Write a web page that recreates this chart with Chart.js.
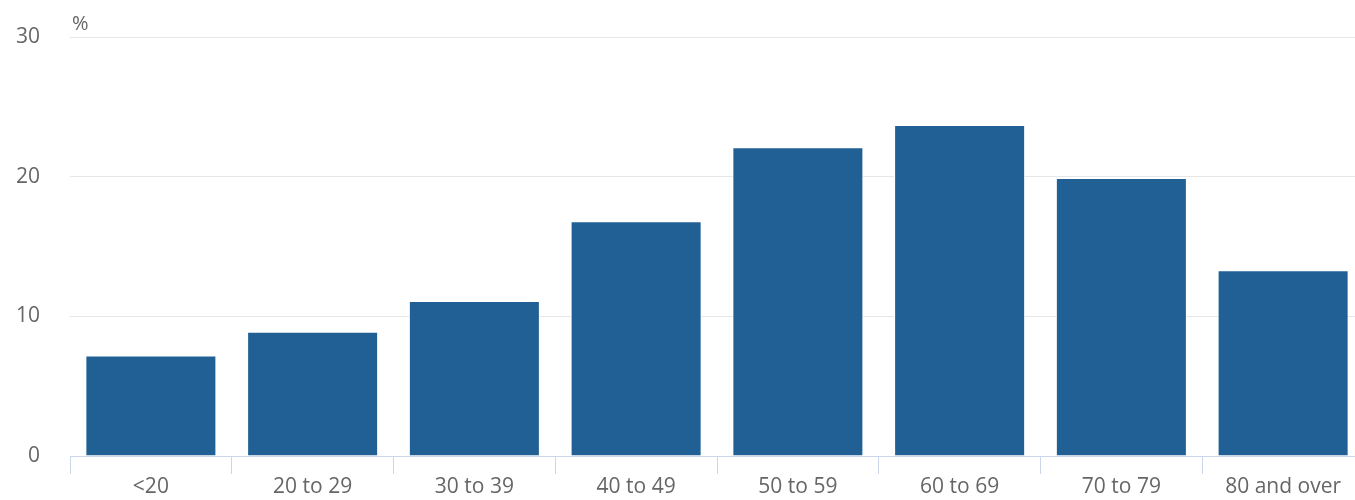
<!DOCTYPE html>
<html>
<head>
<meta charset="utf-8">
<script src="https://cdn.jsdelivr.net/npm/chart.js@4"></script>
<style>
    html, body { margin: 0; padding: 0; overflow: hidden; background: #ffffff; }
    #wrap { width: 1364px; height: 500px; position: relative; }
</style>
</head>
<body>
<div id="wrap"><canvas id="ageChart"></canvas></div>
<script>
// Age groups and their share (%)
const ageGroups = ["<20", "20 to 29", "30 to 39", "40 to 49", "50 to 59", "60 to 69", "70 to 79", "80 and over"];
const shareValues = [7.2, 8.9, 11.1, 16.8, 22.1, 23.7, 19.9, 13.3];
const yTicks = [0, 10, 20, 30];
const unitLabel = "%";

const labelFont = { family: "'Open Sans', sans-serif", size: 21 };
const labelColor = "#666666";

/**
 * Draw the unit label above the value axis
 */
const unitPlugin = {
    id: "unitLabel",
    afterDraw(chart) {
        let ctx = chart.ctx;
        ctx.save();
        ctx.font = "20px 'Open Sans', sans-serif";
        ctx.fillStyle = labelColor;
        ctx.textAlign = "left";
        ctx.textBaseline = "alphabetic";
        ctx.fillText(unitLabel, chart.chartArea.left + 2, chart.chartArea.top - 7);
        ctx.restore();
    }
};

function renderChart() {
    let ctx = document.getElementById("ageChart").getContext("2d");
    new Chart(ctx, {
        type: "bar",
        data: {
            labels: ageGroups,
            datasets: [{
                data: shareValues,
                backgroundColor: "#216094",
                borderColor: "#ffffff",
                borderWidth: 1,
                barPercentage: 0.81,
                categoryPercentage: 1
            }]
        },
        options: {
            responsive: true,
            maintainAspectRatio: false,
            animation: false,
            layout: { padding: { top: 37, left: 0, right: 0, bottom: 0 } },
            plugins: {
                legend: { display: false },
                tooltip: { enabled: false }
            },
            scales: {
                x: {
                    grid: {
                        offset: true,
                        drawOnChartArea: false,
                        color: "#ccd6eb",
                        tickLength: 18
                    },
                    border: { color: "#ccd6eb" },
                    ticks: { font: labelFont, color: labelColor, padding: 0, maxRotation: 0 },
                    afterFit(scale) {
                        scale.height = 44;
                        scale.paddingLeft = 0;
                        scale.paddingRight = 0;
                    }
                },
                y: {
                    min: 0,
                    max: 30,
                    afterBuildTicks(scale) { scale.ticks = yTicks.map(v => ({ value: v })); },
                    grid: { color: "#e6e6e6", drawTicks: false },
                    border: { display: false },
                    ticks: { font: labelFont, color: labelColor, padding: 30 },
                    afterFit(scale) {
                        scale.width = 70;
                        scale.paddingTop = 0;
                        scale.paddingBottom = 0;
                    }
                }
            }
        },
        plugins: [unitPlugin]
    });
}

renderChart();
</script>
</body>
</html>
